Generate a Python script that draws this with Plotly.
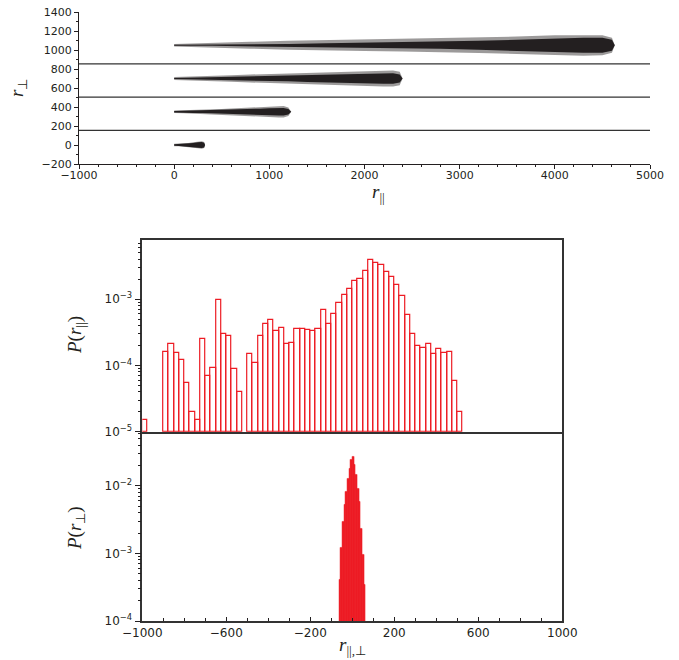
import plotly.graph_objects as go

W, H = 679, 660
INK = "#231f20"
RED = "#ed1c24"

# ---------------- top panel: scatter clouds (envelopes) ----
row_centers = [0, 350, 700, 1050]
row_x = [
    [0, 50, 100, 150, 200, 250, 290, 315, 325],
    [0, 100, 200, 300, 400, 500, 600, 700, 800, 900, 1000, 1100, 1150, 1200, 1230],
    [0, 200, 400, 600, 800, 1000, 1200, 1400, 1600, 1800, 2000, 2200, 2300, 2370, 2400],
    [0, 400, 800, 1200, 1600, 2000, 2400, 2800, 3200, 3600, 4000, 4300, 4500, 4600, 4630],
]
row_core = [
    [8, 10, 13, 17, 22, 28, 32, 25, 0],
    [8, 10, 12, 14, 16, 18, 20, 24, 28, 32, 36, 40, 40, 30, 0],
    [6, 10, 13, 18, 22, 26, 30, 36, 42, 48, 52, 55, 55, 42, 0],
    [4, 6, 10, 14, 20, 26, 32, 38, 47, 58, 72, 80, 80, 58, 0],
]
row_halo = [
    [12, 14, 17, 22, 28, 35, 40, 32, 0],
    [14, 16, 18, 22, 26, 30, 34, 38, 44, 50, 55, 60, 60, 45, 0],
    [16, 20, 26, 34, 42, 48, 54, 60, 68, 74, 80, 85, 85, 70, 0],
    [14, 22, 36, 48, 55, 60, 66, 72, 82, 92, 105, 110, 106, 80, 0],
]
sep_lines = [855, 505, 155]

# ---------------- middle panel: P(r_par) histogram ---------------------------
hist_left = [-1000, -900, -875, -850, -825, -800, -775, -750, -725, -700, -675,
             -650, -625, -600, -575, -550, -500, -475, -450, -425, -400, -375,
             -350, -325, -300, -275, -250, -225, -200, -175, -150, -125, -100,
             -75, -50, -25, 0, 25, 50, 75, 100, 125, 150, 175, 200, 225, 250,
             275, 300, 325, 350, 375, 400, 425, 450, 475, 500]
hist_p = [1.5e-5, 1.6e-4, 2.1e-4, 1.55e-4, 1.23e-4, 5.5e-5, 2.0e-5, 1.5e-5,
          2.5e-4, 6.9e-5, 9.3e-5, 9.9e-4, 3.0e-4, 2.8e-4, 8.9e-5, 4.0e-5,
          1.5e-4, 1.1e-4, 2.8e-4, 4.2e-4, 4.8e-4, 3.3e-4, 3.7e-4, 2.1e-4,
          2.2e-4, 3.5e-4, 3.5e-4, 3.4e-4, 3.3e-4, 3.5e-4, 6.8e-4, 4.3e-4,
          5.9e-4, 8.7e-4, 1.17e-3, 1.45e-3, 1.86e-3, 2.04e-3, 2.69e-3, 3.9e-3,
          3.47e-3, 3.31e-3, 2.57e-3, 2.19e-3, 1.66e-3, 1.12e-3, 5.75e-4,
          2.95e-4, 1.95e-4, 1.86e-4, 2.14e-4, 1.48e-4, 1.78e-4, 1.55e-4,
          1.58e-4, 5.9e-5, 2.0e-5]
hist_w = 25

# ---------------- bottom panel: P(r_perp) histogram -------------------------
perp_left = [-64, -56, -48, -40, -32, -24, -16, -8, 0, 8, 16, 24, 32, 40, 48, 56]
perp_p = [4.1e-4, 1.2e-3, 2.95e-3, 5.2e-3, 8.1e-3, 1.29e-2, 1.8e-2, 2.4e-2,
          2.7e-2, 2.04e-2, 1.44e-2, 9.1e-3, 5.8e-3, 2.34e-3, 9.5e-4, 3.4e-4]
perp_w = 8

fig = go.Figure()

for c, xs, core, halo in zip(row_centers, row_x, row_core, row_halo):
    for hw, col in ((halo, "rgba(35,31,32,0.45)"), (core, INK)):
        px = xs + xs[::-1]
        py = [c + h for h in hw] + [c - h for h in hw][::-1]
        fig.add_trace(go.Scatter(x=px, y=py, fill="toself", fillcolor=col,
                                 line=dict(width=0, color=col), mode="lines",
                                 hoverinfo="skip", showlegend=False,
                                 xaxis="x", yaxis="y"))

for yv in sep_lines:
    fig.add_trace(go.Scatter(x=[-1000, 5000], y=[yv, yv], mode="lines",
                             line=dict(color="#333333", width=1.2),
                             showlegend=False, xaxis="x", yaxis="y"))

fig.add_trace(go.Bar(x=[l + hist_w / 2 for l in hist_left], y=[p - 1e-5 for p in hist_p],
                     base=1e-5,
                     width=hist_w, marker=dict(color="rgba(255,255,255,0)",
                                               line=dict(color=RED, width=1.2)),
                     showlegend=False, xaxis="x2", yaxis="y2"))

fig.add_trace(go.Bar(x=[l + perp_w / 2 for l in perp_left], y=perp_p,
                     width=perp_w, marker=dict(color=RED, line=dict(color=RED, width=0.5)),
                     showlegend=False, xaxis="x3", yaxis="y3"))


def fx(px):
    return px / W


def fy(py):
    return 1 - py / H


tickfont_top = dict(family="DejaVu Sans", size=11, color=INK)
tickfont_bot = dict(family="DejaVu Sans", size=12, color=INK)

minor_log = lambda lo, hi: [m * 10 ** e for e in range(lo, hi) for m in range(2, 10)]

fig.update_layout(
    width=W, height=H, margin=dict(l=0, r=0, t=0, b=0),
    paper_bgcolor="white", plot_bgcolor="white", barmode="overlay",
    bargap=0, showlegend=False,
    xaxis=dict(domain=[fx(79), fx(650)], anchor="y", range=[-1000, 5000],
               tickvals=[-1000, 0, 1000, 2000, 3000, 4000, 5000],
               ticks="outside", ticklen=4, tickcolor=INK, ticklabelstandoff=-3,
               minor=dict(dtick=200, ticks="outside", ticklen=2, tickcolor=INK),
               showline=True, linecolor=INK, linewidth=1, automargin=False,
               showgrid=False, zeroline=False, tickfont=tickfont_top),
    yaxis=dict(domain=[fy(164), fy(12)], anchor="x", range=[-200, 1400],
               dtick=200, ticks="outside", ticklen=4, tickcolor=INK,
               minor=dict(dtick=100, ticks="outside", ticklen=2, tickcolor=INK),
               showline=True, linecolor=INK, linewidth=1, automargin=False,
               showgrid=False, zeroline=False, tickfont=tickfont_top),
    xaxis2=dict(domain=[fx(142.3), fx(562.3)], anchor="y2", range=[-1000, 1000],
                showticklabels=False, ticks="", showline=True, mirror=True,
                linecolor="#333333", linewidth=1.5, automargin=False,
                showgrid=False, zeroline=False),
    yaxis2=dict(domain=[fy(431.7), fy(240)], anchor="x2", type="log",
                range=[-5, -2.105],
                tickvals=[1e-5, 1e-4, 1e-3],
                ticktext=["10<sup>−5</sup>", "10<sup>−4</sup>", "10<sup>−3</sup>"],
                ticks="outside", ticklen=6, tickcolor=INK,
                minor=dict(tickvals=minor_log(-5, -2), ticks="outside",
                           ticklen=3, tickcolor=INK),
                showline=True, mirror=True, linecolor="#333333", linewidth=1.5,
                automargin=False,
                showgrid=False, zeroline=False, tickfont=tickfont_bot),
    xaxis3=dict(domain=[fx(142.3), fx(562.3)], anchor="y3", range=[-1000, 1000],
                tickvals=[-1000, -600, -200, 200, 600, 1000],
                ticks="inside", ticklen=4, tickcolor=INK,
                minor=dict(dtick=100, ticks="inside", ticklen=3, tickcolor=INK),
                showline=True, mirror=False, linecolor="#333333", linewidth=1.5,
                automargin=False,
                showgrid=False, zeroline=False, tickfont=tickfont_bot),
    yaxis3=dict(domain=[fy(621), fy(431.7)], anchor="x3", type="log",
                range=[-4, -1.2],
                tickvals=[1e-4, 1e-3, 1e-2],
                ticktext=["10<sup>−4</sup>", "10<sup>−3</sup>", "10<sup>−2</sup>"],
                ticks="outside", ticklen=6, tickcolor=INK,
                minor=dict(tickvals=minor_log(-4, -1), ticks="outside",
                           ticklen=3, tickcolor=INK),
                showline=True, mirror=True, linecolor="#333333", linewidth=1.5,
                automargin=False,
                showgrid=False, zeroline=False, tickfont=tickfont_bot),
)

serif = dict(family="Liberation Serif", size=19, color=INK)
ann = [
    (fx(18), fy(88), "<i>r</i><sub>⊥</sub>", -90),
    (fx(378), fy(193), "<i>r</i><sub>||</sub>", 0),
    (fx(76), fy(335), "<i>P</i>(<i>r</i><sub>||</sub>)", -90),
    (fx(76), fy(528), "<i>P</i>(<i>r</i><sub>⊥</sub>)", -90),
    (fx(352), fy(646), "<i>r</i><sub>||,⊥</sub>", 0),
]
for x, y, t, a in ann:
    fig.add_annotation(x=x, y=y, xref="paper", yref="paper", text=t,
                       textangle=a, showarrow=False, font=serif,
                       xanchor="center", yanchor="middle")

fig.write_html("out.html")
